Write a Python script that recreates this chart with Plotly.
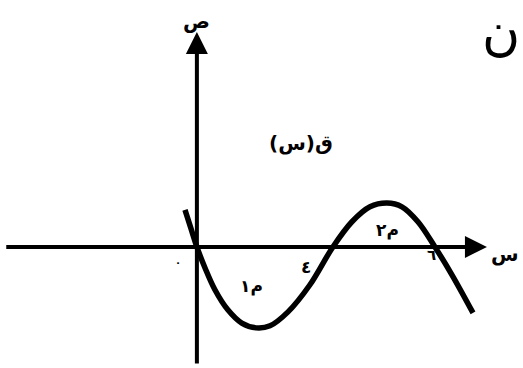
import plotly.graph_objects as go

# Curve q(x) (data units, origin at axes crossing)
curve_x = [-0.35, -0.18, 0.0, 0.24, 0.53, 0.91, 1.32, 1.74, 2.15, 2.68, 3.32, 4.0,
           4.56, 5.09, 5.59, 6.03, 6.5, 7.0, 7.5, 8.12]
curve_y = [1.09, 0.56, 0.0, -0.62, -1.26, -1.85, -2.24, -2.38, -2.32, -1.91, -1.12, 0.0,
           0.74, 1.18, 1.29, 1.18, 0.74, 0.0, -0.82, -1.94]

# Axis extents
x_axis_from, x_axis_to = -5.65, 8.53
y_axis_from, y_axis_to = -3.47, 6.32

# Labels
labels_text = ["ص", "س", "\u200fق(س)\u200f", "م١", "٤", "م٢", "٦", "٠"]
labels_x = [0.0, 9.05, 3.05, 1.6, 3.2, 5.6, 6.9, -0.55]
labels_y = [6.65, -0.22, 3.05, -1.15, -0.58, 0.5, -0.25, -0.45]
labels_size = [20, 20, 20, 17, 17, 17, 15, 10]

BLACK = "#000000"
FONT = "DejaVu Sans"

fig = go.Figure()
fig.add_trace(go.Scatter(
    x=curve_x, y=curve_y, mode="lines",
    line=dict(color=BLACK, width=5.5, shape="spline", smoothing=1.0),
    hoverinfo="skip", showlegend=False,
))

annotations = []
annotations.append(dict(x=x_axis_to, y=0, ax=x_axis_from, ay=0, xref="x", yref="y",
                        axref="x", ayref="y", text="", showarrow=True,
                        arrowhead=2, arrowsize=1.1, arrowwidth=4, arrowcolor=BLACK))
annotations.append(dict(x=0, y=y_axis_to, ax=0, ay=y_axis_from, xref="x", yref="y",
                        axref="x", ayref="y", text="", showarrow=True,
                        arrowhead=2, arrowsize=1.1, arrowwidth=4, arrowcolor=BLACK))
for t, lx, ly, s in zip(labels_text, labels_x, labels_y, labels_size):
    annotations.append(dict(x=lx, y=ly, xref="x", yref="y", text="<b>" + t + "</b>",
                            showarrow=False, font=dict(family=FONT, size=s, color=BLACK)))
# word fragment at top right
annotations.append(dict(x=0.998, y=1.0, xref="paper", yref="paper", text="ن",
                        xanchor="right", yanchor="top", showarrow=False,
                        font=dict(family=FONT, size=52, color=BLACK)))

fig.update_layout(
    width=523, height=368, autosize=False,
    margin=dict(l=0, r=0, t=0, b=0),
    paper_bgcolor="white", plot_bgcolor="white",
    xaxis=dict(range=[-5.79, 9.59], visible=False, fixedrange=True),
    yaxis=dict(range=[-3.56, 7.26], visible=False, fixedrange=True),
    annotations=annotations,
)

fig.write_html("out.html", config={"displayModeBar": False},
               post_script="document.body.style.margin='0px';")
